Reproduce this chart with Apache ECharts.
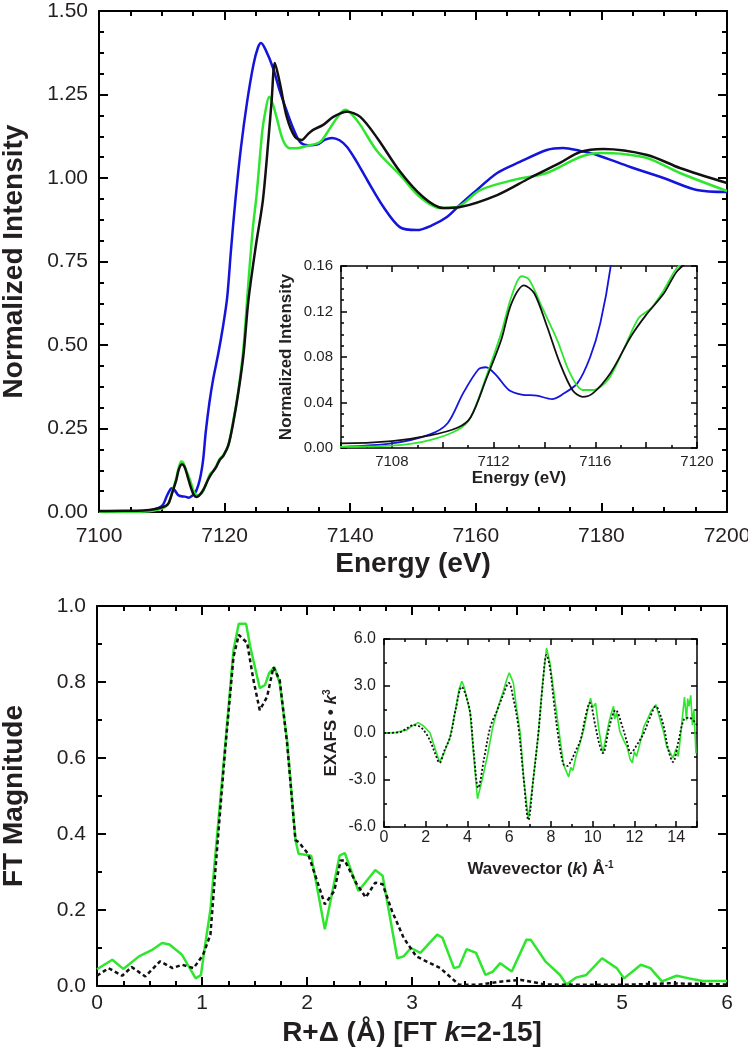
<!DOCTYPE html>
<html>
<head>
<meta charset="utf-8">
<script src="https://cdn.jsdelivr.net/npm/echarts@6.0.0/dist/echarts.min.js"></script>
<style>html,body{margin:0;padding:0;background:#fff}#c{width:748px;height:1050px}</style>
</head>
<body>
<div id="c"></div>
<script>
// ---------- DATA ----------
// XANES (Energy eV, normalized intensity)
const blueXanes = [[7100,0.0],[7104,0.0005],[7106,0.001],[7108,0.004],[7109.5,0.012],[7110.2,0.022],[7110.8,0.048],[7111.4,0.069],[7111.7,0.071],[7112.1,0.064],[7112.6,0.051],[7113.1,0.047],[7113.7,0.046],[7114.3,0.043],[7114.7,0.047],[7115.3,0.057],[7115.8,0.08],[7116.2,0.11],[7116.6,0.159],[7117,0.24],[7117.6,0.33],[7118.2,0.40],[7119,0.475],[7119.7,0.55],[7120.4,0.64],[7121,0.78],[7121.7,0.93],[7122.6,1.09],[7123.6,1.23],[7124.6,1.34],[7125.3,1.39],[7125.8,1.404],[7126.5,1.385],[7127.7,1.33],[7128.8,1.26],[7129.9,1.20],[7131,1.145],[7132,1.108],[7133.3,1.098],[7134.7,1.10],[7136,1.115],[7137.1,1.12],[7138.3,1.113],[7139.5,1.093],[7141,1.05],[7142.7,0.994],[7145.3,0.913],[7147.9,0.853],[7150.6,0.844],[7153,0.858],[7155.4,0.883],[7157.5,0.92],[7159.6,0.955],[7163.4,1.015],[7167,1.048],[7171.3,1.084],[7173.9,1.090],[7176.5,1.082],[7179.3,1.069],[7184.6,1.033],[7189.9,1.0],[7195.2,0.964],[7200,0.958]];
const greenXanes = [[7100,0.0],[7104,0.0005],[7106,0.001],[7108,0.002],[7109.5,0.007],[7110.6,0.016],[7111.1,0.027],[7111.7,0.062],[7112.3,0.101],[7112.7,0.133],[7113.1,0.151],[7113.4,0.148],[7113.9,0.124],[7114.5,0.095],[7115,0.066],[7115.5,0.051],[7115.9,0.051],[7116.5,0.06],[7117.1,0.086],[7117.7,0.114],[7118.2,0.123],[7118.7,0.139],[7119.2,0.158],[7119.8,0.17],[7120.6,0.2],[7121.4,0.275],[7122.2,0.365],[7123,0.49],[7123.8,0.69],[7124.5,0.85],[7125.1,0.95],[7126.0,1.14],[7126.5,1.20],[7127.1,1.243],[7127.7,1.22],[7128.3,1.18],[7129.3,1.113],[7130.4,1.089],[7131.8,1.09],[7133.1,1.096],[7135.2,1.108],[7136.3,1.135],[7137.3,1.164],[7138.3,1.19],[7139.2,1.204],[7140.3,1.19],[7141.6,1.159],[7144.3,1.08],[7147.9,1.01],[7151.1,0.943],[7154.3,0.910],[7157,0.913],[7160.7,0.964],[7166,0.994],[7171.3,1.015],[7176.6,1.063],[7179.8,1.075],[7183,1.073],[7187.3,1.06],[7192.5,1.015],[7200,0.961]];
const blackXanes = [[7100,0.003],[7104,0.004],[7106,0.004],[7108,0.006],[7109.5,0.011],[7110.6,0.018],[7111.1,0.027],[7111.7,0.06],[7112.3,0.095],[7112.7,0.127],[7113.2,0.143],[7113.6,0.136],[7114.1,0.107],[7114.6,0.075],[7115.1,0.051],[7115.5,0.045],[7115.9,0.048],[7116.6,0.066],[7117.4,0.098],[7118,0.117],[7118.7,0.136],[7119.2,0.155],[7119.8,0.168],[7120.6,0.2],[7121.4,0.27],[7122.2,0.36],[7123,0.47],[7123.8,0.635],[7125,0.80],[7126.1,0.934],[7127,1.12],[7127.5,1.234],[7128,1.344],[7128.8,1.284],[7129.9,1.183],[7131.2,1.123],[7132.3,1.114],[7133.2,1.13],[7134.1,1.144],[7135.7,1.159],[7137.3,1.183],[7139.5,1.198],[7141.6,1.183],[7144.3,1.12],[7147.9,1.02],[7151.6,0.943],[7154.8,0.910],[7157.5,0.913],[7163.4,0.949],[7168.6,1.0],[7173.4,1.045],[7176.6,1.078],[7180.3,1.087],[7187.3,1.069],[7192.5,1.030],[7200,0.985]];
// Fourier transform (R+Δ Å, FT magnitude)
const greenFT = [[0,0.044],[0.146,0.069],[0.25,0.045],[0.40,0.078],[0.53,0.096],[0.62,0.113],[0.69,0.109],[0.81,0.082],[0.94,0.020],[0.99,0.029],[1.03,0.109],[1.08,0.2],[1.14,0.384],[1.22,0.63],[1.30,0.884],[1.35,0.953],[1.42,0.953],[1.46,0.892],[1.55,0.784],[1.60,0.792],[1.64,0.824],[1.69,0.839],[1.74,0.797],[1.81,0.647],[1.89,0.384],[1.92,0.348],[2.04,0.343],[2.17,0.149],[2.31,0.343],[2.36,0.350],[2.49,0.25],[2.58,0.281],[2.65,0.305],[2.72,0.29],[2.86,0.073],[2.92,0.078],[2.99,0.10],[3.08,0.087],[3.24,0.135],[3.29,0.127],[3.40,0.047],[3.45,0.051],[3.52,0.097],[3.61,0.087],[3.70,0.029],[3.77,0.038],[3.84,0.06],[3.95,0.038],[4.09,0.122],[4.13,0.122],[4.27,0.065],[4.41,0.029],[4.47,0.004],[4.56,0.022],[4.66,0.029],[4.81,0.073],[4.95,0.047],[5.02,0.02],[5.18,0.056],[5.27,0.047],[5.38,0.012],[5.52,0.027],[5.64,0.02],[5.77,0.013],[6.0,0.013]];
const blackFT = [[0,0.027],[0.11,0.047],[0.24,0.027],[0.33,0.05],[0.46,0.025],[0.60,0.065],[0.72,0.047],[0.81,0.056],[0.92,0.047],[1.01,0.082],[1.08,0.135],[1.15,0.384],[1.22,0.62],[1.30,0.866],[1.35,0.924],[1.43,0.903],[1.49,0.805],[1.55,0.726],[1.62,0.761],[1.68,0.839],[1.74,0.805],[1.81,0.64],[1.89,0.384],[1.92,0.379],[2.01,0.348],[2.17,0.215],[2.26,0.25],[2.32,0.33],[2.36,0.33],[2.47,0.27],[2.56,0.233],[2.65,0.272],[2.72,0.268],[2.81,0.197],[2.92,0.127],[3.04,0.078],[3.27,0.047],[3.45,0.003],[3.63,0.003],[3.86,0.012],[4.04,0.016],[4.27,0.004],[4.54,0.003],[5.0,0.003],[5.45,0.007],[6.0,0.004]];
// EXAFS (k Å^-1, chi*k^3)
const greenChi = [[0,0],[0.5,0.02],[1.1,0.2],[1.4,0.5],[1.63,0.66],[1.9,0.45],[2.21,0],[2.45,-1.0],[2.66,-1.85],[2.9,-1.2],[3.17,-0.26],[3.4,1.3],[3.6,2.8],[3.73,3.3],[3.85,2.9],[4.13,1.28],[4.3,-1.5],[4.48,-4.2],[4.7,-3.0],[4.95,-1.5],[5.2,0.3],[5.43,1.5],[5.7,2.6],[5.9,3.5],[6.0,3.85],[6.2,3.2],[6.35,1.6],[6.53,0],[6.7,-3.0],[6.92,-5.5],[7.15,-3.0],[7.4,0],[7.6,3.2],[7.79,5.42],[7.95,4.5],[8.15,2.5],[8.4,0],[8.6,-2],[8.75,-2.5],[8.85,-2.8],[8.95,-2.2],[9.05,-2.4],[9.2,-1.5],[9.4,-0.6],[9.57,0.2],[9.75,1.4],[9.9,2.23],[10.0,1.6],[10.14,1.9],[10.3,0.2],[10.49,-1.28],[10.6,-0.5],[10.8,0.8],[10.9,1.3],[11.0,1.7],[11.05,0.9],[11.15,1.3],[11.3,0.1],[11.5,-0.5],[11.65,-0.9],[11.8,-1.7],[11.9,-1.9],[12.0,-1.2],[12.1,-1.5],[12.3,-0.5],[12.45,0.4],[12.6,0.8],[12.8,1.4],[13.03,1.8],[13.2,1.0],[13.41,0],[13.55,-0.9],[13.7,-1.2],[13.85,-1.6],[14.0,-1.0],[14.1,-1.5],[14.18,-0.6],[14.3,1.0],[14.4,2.3],[14.5,0.8],[14.55,2.2],[14.62,1.7],[14.7,2.4],[14.78,0.5],[14.85,1.5],[14.95,-1.3]];
const blackChi = [[0,0],[0.77,0.06],[1.1,0.3],[1.4,0.5],[1.73,0.4],[2.0,0.0],[2.21,-0.5],[2.45,-1.3],[2.66,-1.9],[2.9,-1.1],[3.17,-0.26],[3.45,1.6],[3.73,2.94],[3.9,2.5],[4.13,1.28],[4.3,-1.2],[4.52,-3.5],[4.8,-1.6],[5.1,0.4],[5.43,1.47],[5.7,2.4],[5.98,3.19],[6.2,2.2],[6.44,0.4],[6.7,-3],[6.92,-5.55],[7.15,-3],[7.4,0],[7.6,3.0],[7.79,4.98],[7.95,4.2],[8.13,2.1],[8.35,-0.2],[8.6,-2.0],[8.8,-2.1],[8.94,-1.85],[9.2,-1.1],[9.42,-0.45],[9.65,1.0],[9.86,1.92],[10.14,0.38],[10.3,-0.6],[10.49,-1.28],[10.8,0.4],[11.1,1.47],[11.43,0.38],[11.65,-0.6],[11.83,-1.28],[12.1,-0.8],[12.45,0],[12.75,1.0],[13.03,1.7],[13.2,1.3],[13.41,0.38],[13.65,-1.2],[13.85,-1.85],[14.1,-0.6],[14.37,0.85],[14.62,0.98],[15,0.5]];

// ---------- STYLE ----------
const FONT = "'Liberation Sans', Arial, Helvetica, sans-serif";
const TXT = '#231f20';
const BLUE = '#1414dc', GREEN = '#2fe62f', BLACK = '#111111';

function axis(o) {
  const lw = o.lw || 2;
  return {
    type: 'value', gridIndex: o.g, position: o.pos,
    min: o.min, max: o.max, interval: o.interval,
    axisLine: { show: true, onZero: false, lineStyle: { color: '#000', width: lw } },
    axisTick: { show: true, inside: true, length: o.tl || 9, lineStyle: { color: '#000', width: lw } },
    minorTick: { show: true, splitNumber: o.ms, length: o.ml || 5, lineStyle: { color: '#000', width: lw } },
    splitLine: { show: false }, minorSplitLine: { show: false },
    axisLabel: {
      show: !!o.label, fontSize: o.fs || 21, color: TXT, fontFamily: FONT,
      margin: o.margin || 8, formatter: o.fmt || (v => String(v)), showMinLabel: true, showMaxLabel: true, hideOverlap: false
    },
    name: o.name || '', nameLocation: 'middle', nameGap: o.nameGap || 30,
    nameMoveOverlap: false,
    nameTextStyle: o.nameStyle || {}
  };
}
function nameStyle(size) {
  return {
    fontFamily: FONT, fontWeight: 'bold', fontSize: size, color: TXT,
    rich: {
      i: { fontFamily: FONT, fontWeight: 'bold', fontStyle: 'italic', fontSize: size, color: TXT },
      sup: { fontFamily: FONT, fontWeight: 'bold', fontSize: Math.round(size * 0.6), color: TXT, verticalAlign: 'top', padding: [0, 0, Math.round(size*0.45), 0] }
    }
  };
}

const grids = [
  { left: 99, top: 11, width: 628, height: 501 },
  { left: 341, top: 266, width: 356, height: 182 },
  { left: 97, top: 606, width: 630, height: 380 },
  { left: 384, top: 639, width: 313, height: 188 }
];

const xAxes = [
  axis({ g: 0, pos: 'bottom', min: 7100, max: 7200, interval: 20, ms: 4, label: true, fs: 21, margin: 14,
         name: 'Energy (eV)', nameGap: 38, nameStyle: nameStyle(28) }),
  axis({ g: 0, pos: 'top', min: 7100, max: 7200, interval: 20, ms: 4 }),
  axis({ g: 1, pos: 'bottom', min: 7106, max: 7120, interval: 2, ms: 2, label: true, fs: 15, margin: 6, lw: 1.5, tl: 6, ml: 3,
         fmt: v => ((Math.round(v) - 7100) % 4 === 0 ? String(v) : ''),
         name: 'Energy (eV)', nameGap: 22, nameStyle: nameStyle(17) }),
  axis({ g: 1, pos: 'top', min: 7106, max: 7120, interval: 2, ms: 2, lw: 1.5, tl: 6, ml: 3 }),
  axis({ g: 2, pos: 'bottom', min: 0, max: 6, interval: 1, ms: 4, label: true, fs: 21, margin: 7,
         name: 'R+Δ (Å) [FT {i|k}=2-15]', nameGap: 33, nameStyle: nameStyle(28) }),
  axis({ g: 2, pos: 'top', min: 0, max: 6, interval: 1, ms: 4 }),
  axis({ g: 3, pos: 'bottom', min: 0, max: 15, interval: 2, ms: 2, label: true, fs: 16, margin: 3, lw: 1.5, tl: 6, ml: 3,
         fmt: v => (Math.round(v) % 2 === 0 ? String(v) : ''),
         name: 'Wavevector ({i|k}) Å{sup|-1}', nameGap: 33, nameStyle: nameStyle(17) }),
  axis({ g: 3, pos: 'top', min: 0, max: 15, interval: 2, ms: 2, lw: 1.5, tl: 6, ml: 3 })
];
const yAxes = [
  axis({ g: 0, pos: 'left', min: 0, max: 1.5, interval: 0.25, ms: 4, label: true, fs: 21, margin: 11,
         fmt: v => v.toFixed(2), name: 'Normalized Intensity', nameGap: 71, nameStyle: nameStyle(28) }),
  axis({ g: 0, pos: 'right', min: 0, max: 1.5, interval: 0.25, ms: 4 }),
  axis({ g: 1, pos: 'left', min: 0, max: 0.16, interval: 0.04, ms: 4, label: true, fs: 15, margin: 8, lw: 1.5, tl: 6, ml: 3,
         fmt: v => v.toFixed(2), name: 'Normalized Intensity', nameGap: 46, nameStyle: nameStyle(17) }),
  axis({ g: 1, pos: 'right', min: 0, max: 0.16, interval: 0.04, ms: 4, lw: 1.5, tl: 6, ml: 3 }),
  axis({ g: 2, pos: 'left', min: 0, max: 1.0, interval: 0.2, ms: 2, label: true, fs: 21, margin: 11,
         fmt: v => v.toFixed(1), name: 'FT Magnitude', nameGap: 69, nameStyle: nameStyle(28) }),
  axis({ g: 2, pos: 'right', min: 0, max: 1.0, interval: 0.2, ms: 2 }),
  axis({ g: 3, pos: 'left', min: -6, max: 6, interval: 3, ms: 2, label: true, fs: 16, margin: 8, lw: 1.5, tl: 6, ml: 3,
         fmt: v => v.toFixed(1), name: 'EXAFS • {i|k}{sup|3}', nameGap: 44, nameStyle: nameStyle(17) }),
  axis({ g: 3, pos: 'right', min: -6, max: 6, interval: 3, ms: 2, lw: 1.5, tl: 6, ml: 3 })
];

function line(data, xi, color, width, opts) {
  return Object.assign({
    type: 'line', data: data, xAxisIndex: xi, yAxisIndex: xi, showSymbol: false, symbol: 'none',
    clip: true, smooth: false, lineStyle: { color: color, width: width, type: 'solid' }, z: 3
  }, opts || {});
}

const series = [
  line(blueXanes, 0, BLUE, 2.5, { smooth: 0.3 }),
  line(greenXanes, 0, GREEN, 2.5, { smooth: 0.3 }),
  line(blackXanes, 0, BLACK, 2.5, { smooth: 0.3 }),
  line(blueXanes, 2, BLUE, 1.8, { smooth: 0.3 }),
  line(greenXanes, 2, GREEN, 1.8, { smooth: 0.3 }),
  line(blackXanes, 2, BLACK, 1.8, { smooth: 0.3 }),
  line(greenFT, 4, GREEN, 2.5),
  { ...line(blackFT, 4, BLACK, 2.5), lineStyle: { color: BLACK, width: 2.5, type: [4, 3] } },
  line(greenChi, 6, GREEN, 1.6),
  { ...line(blackChi, 6, BLACK, 1.8, { smooth: 0.35 }), lineStyle: { color: BLACK, width: 1.8, type: [2, 2] } }
];

const chart = echarts.init(document.getElementById('c'), null, { renderer: 'canvas' });
chart.setOption({
  animation: false,
  backgroundColor: '#ffffff',
  grid: grids.map(g => Object.assign({ containLabel: false, outerBoundsMode: 'none' }, g)),
  xAxis: xAxes,
  yAxis: yAxes,
  series: series
});
</script>
</body>
</html>
